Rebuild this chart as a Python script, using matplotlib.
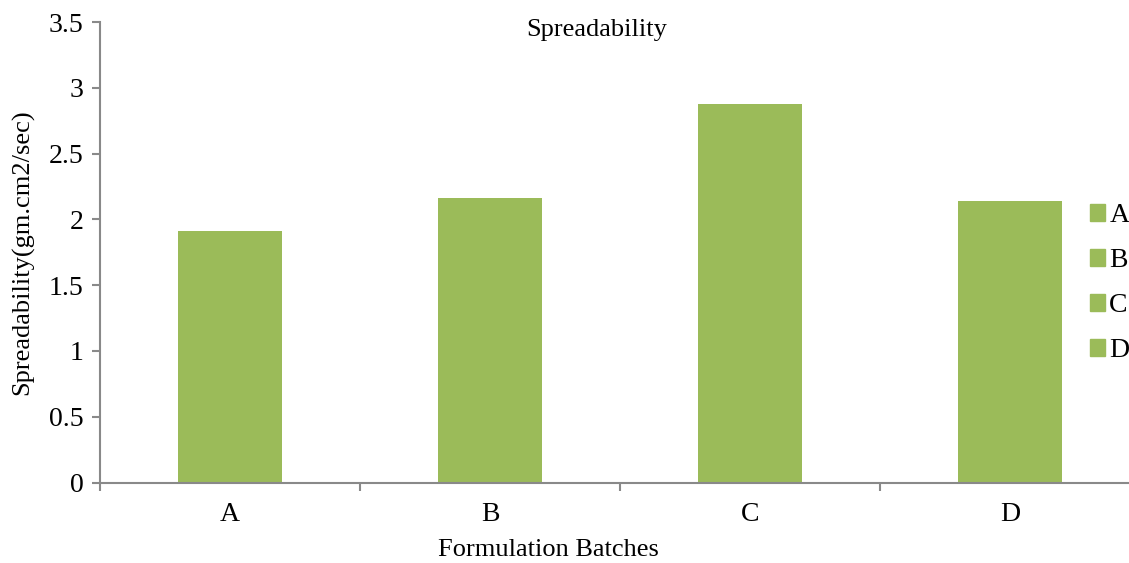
import matplotlib.pyplot as plt
from matplotlib.patches import Patch

# Data
batches = ['A', 'B', 'C', 'D']
spreadability = [1.915, 2.165, 2.873, 2.143]
y_ticks = [0, 0.5, 1, 1.5, 2, 2.5, 3, 3.5]
y_tick_labels = ['0', '0.5', '1', '1.5', '2', '2.5', '3', '3.5']

plt.rcParams['font.family'] = ['Liberation Serif', 'DejaVu Serif']
bar_color = '#9BBB59'
axis_color = '#898989'

W, H = 1129, 563
fig = plt.figure(figsize=(W / 100, H / 100), dpi=100)
ax = fig.add_axes([100 / W, (H - 482.5) / H, 1040 / W, 460.5 / H])

x = range(len(batches))
ax.bar(x, spreadability, width=0.4, color=bar_color)

ax.set_xlim(-0.5, len(batches) - 0.5)
ax.set_ylim(0, 3.5)
ax.set_yticks(y_ticks)
ax.set_yticklabels(y_tick_labels)
ax.set_xticks(list(x))
ax.set_xticklabels(batches)
ax.set_xticks([i - 0.5 for i in range(len(batches) + 1)], minor=True)

for side in ['top', 'right']:
    ax.spines[side].set_visible(False)
for side in ['left', 'bottom']:
    ax.spines[side].set_color(axis_color)
    ax.spines[side].set_linewidth(1.5)

ax.tick_params(axis='y', direction='out', length=6, width=1.5, color=axis_color,
               labelsize=20, pad=6)
ax.tick_params(axis='x', which='major', length=0, labelsize=20, pad=14)
ax.tick_params(axis='x', which='minor', direction='out', length=6, width=1.5,
               color=axis_color)

ax.set_ylabel('Spreadability(gm.cm2/sec)', fontsize=19, labelpad=10)
fig.text(548 / W, 1 - 550 / H, 'Formulation Batches', fontsize=19,
         ha='center', va='center')
fig.text(597 / W, 1 - 30 / H, 'Spreadability', fontsize=19,
         ha='center', va='center')

handles = [Patch(color=bar_color) for _ in batches]
fig.legend(handles, batches, loc='center left', bbox_to_anchor=(1076 / W, 1 - 283 / H),
           frameon=False, fontsize=20, handlelength=0.55, handleheight=0.55,
           handletextpad=0.15, labelspacing=0.72, borderpad=0)

fig.savefig('out.png', dpi=100)
